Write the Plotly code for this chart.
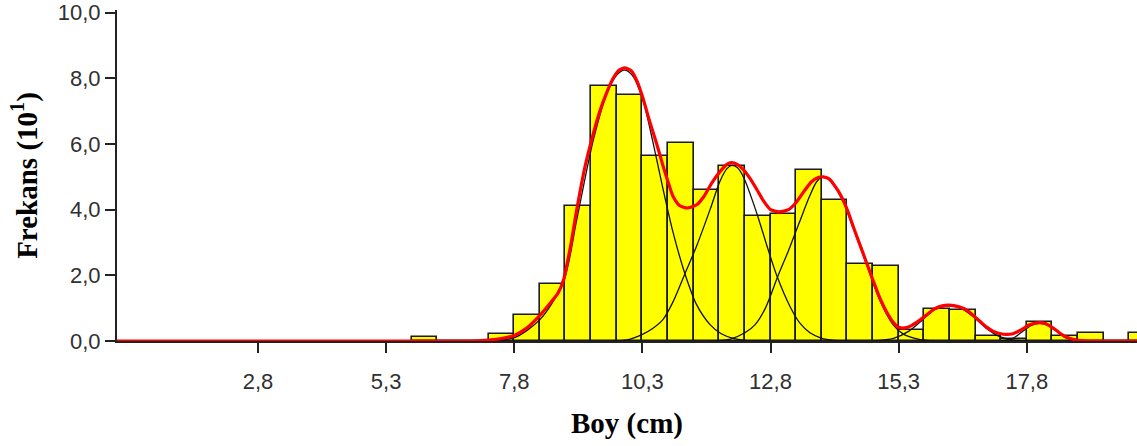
import plotly.graph_objects as go

# Length-frequency histogram (Boy, cm) with fitted normal components
bin_left = [5.8, 6.3, 6.8, 7.3, 7.8, 8.3, 8.8, 9.3, 9.8, 10.3, 10.8, 11.3, 11.8,
            12.3, 12.8, 13.3, 13.8, 14.3, 14.8, 15.3, 15.8, 16.3, 16.8, 17.3,
            17.8, 18.3, 18.8, 19.3, 19.8]
freq = [0.12, 0.0, 0.0, 0.2, 0.78, 1.73, 4.12, 7.77, 7.49, 5.63, 6.02, 4.59, 5.33,
        3.80, 3.86, 5.22, 4.29, 2.36, 2.29, 0.35, 0.96, 0.94, 0.15, 0.05,
        0.57, 0.14, 0.24, 0.0, 0.23]
bin_width = 0.5

# Total fitted curve
total_x = [0.05, 7.0, 7.3, 7.6, 7.8, 8.05, 8.3, 8.5, 8.65, 8.76, 8.9, 9.02, 9.18,
           9.34, 9.47, 9.6, 9.73, 9.85, 9.95, 10.09, 10.2, 10.3, 10.45, 10.58,
           10.7, 10.8, 10.9, 11.03, 11.18, 11.36, 11.5, 11.65, 11.81, 11.95,
           12.04, 12.15, 12.27, 12.4, 12.53, 12.67, 12.8, 12.97, 13.15, 13.3,
           13.45, 13.6, 13.73, 13.83, 13.93, 14.02, 14.12, 14.22, 14.32, 14.41,
           14.54, 14.67, 14.8, 14.93, 15.06, 15.19, 15.3, 15.42, 15.55, 15.7,
           15.85, 16.0, 16.15, 16.28, 16.4, 16.52, 16.65, 16.78, 16.9, 17.01,
           17.14, 17.27, 17.4, 17.53, 17.63, 17.73, 17.83, 17.95, 18.05, 18.15,
           18.25, 18.38, 18.48, 18.57, 18.68, 18.8, 19.0, 19.95]
total_y = [0, 0, 0.03, 0.09, 0.17, 0.4, 0.78, 1.15, 1.45, 1.85, 2.9, 4.0, 5.3,
           6.3, 7.0, 7.55, 8.0, 8.25, 8.32, 8.22, 7.9, 7.45, 6.65, 6.0,
           5.35, 4.85, 4.4, 4.12, 4.05, 4.15, 4.4, 4.8, 5.15, 5.38,
           5.43, 5.38, 5.22, 4.95, 4.62, 4.25, 4.0, 3.93, 4.0, 4.22,
           4.55, 4.85, 4.98, 5.0, 4.95, 4.8, 4.57, 4.28, 3.9, 3.5,
           2.95, 2.4, 1.85, 1.32, 0.9, 0.58, 0.42, 0.4, 0.47, 0.62,
           0.8, 0.98, 1.07, 1.09, 1.07, 1.02, 0.92, 0.75, 0.58, 0.43,
           0.3, 0.23, 0.2, 0.22, 0.29, 0.38, 0.48, 0.54, 0.56, 0.54,
           0.46, 0.32, 0.2, 0.12, 0.06, 0.02, 0, 0]

# Individual normal components
comp1_x = [7.0, 7.3, 7.8, 8.3, 8.76, 9.02, 9.34, 9.6, 9.8, 9.95, 10.1, 10.3, 10.5,
           10.7, 10.9, 11.13, 11.36, 11.62, 11.84, 12.07, 12.3, 12.7]
comp1_y = [0, 0.02, 0.1, 0.65, 1.8, 3.7, 6.1, 7.5, 8.1, 8.25, 8.1, 7.4, 6.1,
           4.65, 3.3, 2.05, 1.1, 0.5, 0.22, 0.08, 0.02, 0]
comp2_x = [9.7, 10.0, 10.3, 10.5, 10.7, 10.9, 11.13, 11.36, 11.62, 11.81, 11.95,
           12.05, 12.15, 12.27, 12.53, 12.75, 12.92, 13.18, 13.37, 13.57, 13.8,
           14.05, 14.35]
comp2_y = [0, 0.03, 0.2, 0.38, 0.65, 1.2, 2.05, 2.9, 4.0, 4.85, 5.25,
           5.35, 5.28, 5.0, 3.9, 2.8, 2.0, 1.05, 0.55, 0.25, 0.08,
           0.02, 0]
comp3_x = [11.6, 12.0, 12.3, 12.5, 12.7, 12.95, 13.15, 13.36, 13.56, 13.7, 13.8,
           13.93, 14.02, 14.22, 14.41, 14.67, 14.93, 15.19, 15.4, 15.7, 16.0]
comp3_y = [0, 0.05, 0.25, 0.5, 1.0, 2.0, 2.75, 3.6, 4.4, 4.85, 4.98,
           4.93, 4.78, 4.25, 3.45, 2.35, 1.25, 0.5, 0.2, 0.05, 0]
comp4_x = [14.8, 15.2, 15.5, 15.75, 16.0, 16.25, 16.5, 16.75, 17.0, 17.25, 17.5, 17.8]
comp4_y = [0, 0.08, 0.3, 0.62, 0.95, 1.07, 1.0, 0.75, 0.4, 0.15, 0.04, 0]
comp5_x = [17.3, 17.55, 17.75, 17.9, 18.05, 18.2, 18.38, 18.55, 18.8]
comp5_y = [0, 0.1, 0.33, 0.48, 0.54, 0.48, 0.3, 0.1, 0]

x_ticks = [2.8, 5.3, 7.8, 10.3, 12.8, 15.3, 17.8]
x_tick_text = ["2,8", "5,3", "7,8", "10,3", "12,8", "15,3", "17,8"]
y_ticks = [0, 2, 4, 6, 8, 10]
y_tick_text = ["0,0", "2,0", "4,0", "6,0", "8,0", "10,0"]

centers = [b + bin_width / 2 for b in bin_left]

fig = go.Figure()
fig.add_trace(go.Bar(
    x=centers, y=freq, width=bin_width,
    marker=dict(color="#ffff00", line=dict(color="#1a1a1a", width=1.6)),
    hoverinfo="skip",
))
for cx, cy in [(comp1_x, comp1_y), (comp2_x, comp2_y), (comp3_x, comp3_y),
               (comp4_x, comp4_y), (comp5_x, comp5_y)]:
    fig.add_trace(go.Scatter(
        x=cx, y=cy, mode="lines",
        line=dict(color="#111111", width=1.3, shape="spline", smoothing=0.8),
    ))
fig.add_trace(go.Scatter(
    x=total_x, y=total_y, mode="lines",
    line=dict(color="#ff0000", width=3.2, shape="spline", smoothing=0.6),
))

tick_font = dict(family="Liberation Sans, Arial, sans-serif", size=22, color="#303030")
title_font = dict(family="Liberation Serif, Times New Roman, serif", size=29, color="#000000")

fig.update_layout(
    width=1137, height=446,
    margin=dict(l=117, r=0, t=10, b=105),
    paper_bgcolor="white", plot_bgcolor="white",
    showlegend=False, bargap=0,
    xaxis=dict(
        range=[0.05, 19.95], tickvals=x_ticks, ticktext=x_tick_text,
        ticks="outside", ticklen=10, tickwidth=2, tickcolor="#222222",
        showline=True, linecolor="#222222", linewidth=2,
        showgrid=False, zeroline=False, tickfont=tick_font,
        ticklabelstandoff=10,
        title=dict(text="<b>Boy (cm)</b>", font=title_font, standoff=19),
    ),
    yaxis=dict(
        range=[0, 10.08], tickvals=y_ticks, ticktext=y_tick_text,
        ticks="outside", ticklen=10, tickwidth=2, tickcolor="#222222",
        showline=True, linecolor="#222222", linewidth=2,
        showgrid=False, zeroline=False, tickfont=tick_font,
        ticklabelstandoff=0,
        title=dict(text="<b>Frekans (10<sup>1</sup>)</b>", font=title_font, standoff=12),
    ),
)

fig.write_html("out.html")
